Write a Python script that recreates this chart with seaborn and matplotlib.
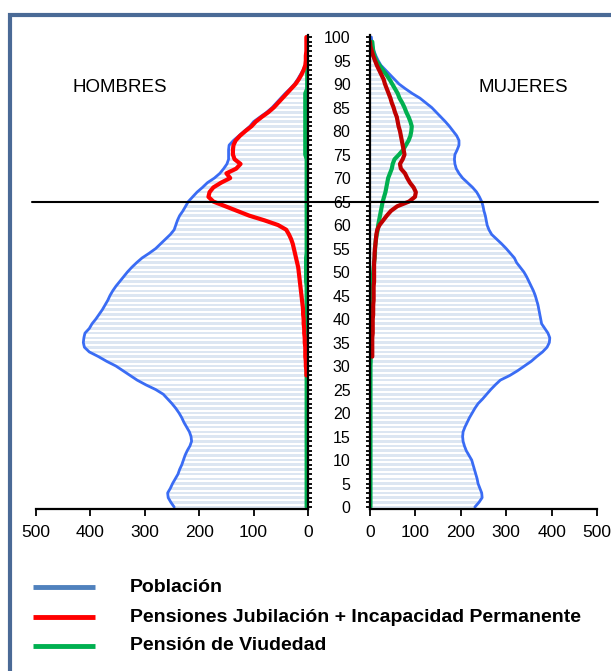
import numpy as np
import pandas as pd
import matplotlib.pyplot as plt
import seaborn as sns
import matplotlib.transforms as mtransforms
from matplotlib.lines import Line2D
from matplotlib.patches import Rectangle
from matplotlib.ticker import MultipleLocator

# edades 0..100
ages = list(range(0, 101))

# poblacion (miles) por edad
pob_hombres = [246, 252, 257, 258, 253, 249, 244, 239, 236, 232,
               229, 226, 222, 217, 214, 215, 218, 223, 228, 232,
               237, 243, 250, 258, 266, 280, 298, 314, 327, 340,
               353, 370, 385, 402, 411, 413, 412, 410, 402, 397,
               390, 384, 378, 373, 368, 364, 359, 353, 346, 339,
               332, 324, 315, 305, 292, 280, 271, 262, 253, 246,
               243, 240, 236, 230, 225, 220, 212, 204, 194, 185,
               172, 162, 155, 149, 146, 146, 146, 145, 137, 127,
               117, 107, 100, 88, 76, 66, 58, 50, 42, 33,
               25, 19, 14, 9, 5, 3, 2, 1.5, 1, 0.6, 0.4]

pob_mujeres = [231, 240, 247, 246, 242, 238, 236, 233, 230, 227,
               224, 218, 212, 208, 205, 204, 205, 209, 214, 219,
               225, 231, 238, 248, 257, 266, 276, 287, 308, 325,
               340, 355, 367, 380, 390, 395, 396, 392, 385, 378,
               376, 374, 372, 370, 367, 364, 360, 355, 350, 345,
               339, 331, 323, 318, 309, 300, 290, 279, 268, 262,
               258, 256, 254, 251, 249, 246, 241, 235, 226, 215,
               204, 196, 190, 187, 186, 187, 192, 196, 196, 191,
               183, 175, 166, 156, 146, 136, 123, 110, 93, 78,
               64, 54, 44, 34, 24, 18, 13, 9, 6, 4, 3]

# pensiones jubilacion + incapacidad permanente
nan = np.nan
jub_hombres = [nan] * 28 + [
    3, 3, 4, 4, 5, 5, 5, 6, 6, 7, 7, 8,
    8, 9, 9, 10, 11, 12, 13, 14, 15, 16,
    17, 18, 20, 22, 24, 26, 28, 31, 35, 40,
    55, 80, 108, 130, 152, 174, 183, 181, 174, 160,
    143, 150, 132, 124, 135, 138, 138, 137, 133, 125,
    115, 104, 96, 85, 73, 63, 55, 47, 39, 31,
    23, 17, 12, 8, 5, 4, 4, 3, 3, 3, 3]

jub_mujeres = [nan] * 32 + [
    5, 5, 5, 5, 5, 6, 6, 6,
    6, 7, 7, 7, 8, 8, 8, 8, 9, 9,
    9, 9, 9, 10, 10, 11, 12, 13, 14, 16,
    21, 29, 37, 46, 60, 86, 99, 101, 96, 88,
    82, 77, 68, 66, 72, 76, 74, 72, 70, 68,
    66, 63, 61, 59, 55, 52, 48, 45, 41, 37,
    33, 30, 25, 20, 15, 11, 7, 4, 1, 0, nan]

# pension de viudedad
viu_hombres = [2.5, 2.5, 2.5, 2.5, 2.5, 2.5, 2.5, 2.5, 2.5, 2.5,
               2.5, 2.5, 2.5, 2.5, 2.5, 2.5, 2.5, 2.5, 2.5, 2.5,
               2.5, 2.5, 2.5, 2.5, 2.5, 2.5, 2.5, 2.5, 2.5, 2.5,
               2.5, 2.5, 2.5, 2.5, 2.5, 2.5, 2.5, 2.5, 2.5, 2.5,
               2.5, 2.5, 2.5, 2.5, 2.5, 2.5, 2.5, 2.5, 3.5, 3.5,
               3.5, 3.5, 3.5, 3.5, 2.5, 2.5, 2.5, 2.5, 2.5, 2.5,
               2.5, 2.5, 2.5, 2.5, 2.5, 2.5, 2.5, 2.5, 2.5, 2.5,
               2.5, 2.5, 2.5, 2.5, 2.5, 5, 5, 5, 5, 5,
               5, 5, 5, 5, 5, 5, 5, 5, 5, 1.5,
               1.5, 1.5, 1.5, 1.5, 1.5, 1.5, 1.5, 1.5, 1.5, 1.5, 1.5]

viu_mujeres = [1, 1, 1, 1, 1, 1, 1, 1, 1, 1,
               1, 1, 1, 1, 1, 1, 1, 1, 1, 1,
               1, 1, 1, 1, 1, 1, 1, 1, 1, 1,
               1, 1.5, 1.5, 2, 2, 2, 2.5, 2.5, 3, 3,
               3.5, 3.5, 4, 4, 4.5, 5, 5.5, 5.5, 6, 6.5,
               7, 8, 9, 10, 11, 11, 12, 13, 15, 17,
               18, 20, 22, 24, 26, 28, 31, 34, 36, 38,
               40, 44, 48, 50, 54, 64, 73, 79, 85, 89,
               91, 92, 89, 85, 80, 76, 71, 65, 61, 55,
               49, 43, 36, 28, 21, 14, 10, 7, 6, 5, nan]

bar_color = "#dce6f2"
blue_line = "#3a6cf4"

sns.set_style("white")
plt.rcParams["font.family"] = ["Liberation Sans", "DejaVu Sans"]
plt.rcParams["text.color"] = "black"

W, H = 611, 671
fig = plt.figure(figsize=(W / 100, H / 100), dpi=100)
ax1 = fig.add_axes([36 / W, 1 - 509.4 / H, 272 / W, 474.7 / H])
ax2 = fig.add_axes([370 / W, 1 - 509.4 / H, 227 / W, 474.7 / H])

df_h = pd.DataFrame({"edad": ages, "pob": pob_hombres, "jub": jub_hombres, "viu": viu_hombres})
df_m = pd.DataFrame({"edad": ages, "pob": pob_mujeres, "jub": jub_mujeres, "viu": viu_mujeres})

for ax, df, red in [(ax1, df_h, "#ff0000"), (ax2, df_m, "#c00000")]:
    sns.barplot(data=df, x="pob", y="edad", orient="y", native_scale=True,
                color=bar_color, saturation=1, width=0.55, errorbar=None,
                linewidth=0, ax=ax)
    sns.lineplot(data=df, x="pob", y="edad", sort=False, estimator=None,
                 color=blue_line, lw=2.0, ax=ax)
    sns.lineplot(data=df.dropna(subset=["viu"]), x="viu", y="edad", sort=False,
                 estimator=None, color="#00b050", lw=3.0, ax=ax)
    sns.lineplot(data=df.dropna(subset=["jub"]), x="jub", y="edad", sort=False,
                 estimator=None, color=red, lw=3.0, ax=ax)
    ax.set_ylim(-0.5, 100.5)
    ax.set_xlabel("")
    ax.set_ylabel("")
    ax.set_xticks([0, 100, 200, 300, 400, 500])
    ax.yaxis.set_major_locator(MultipleLocator(5))
    ax.yaxis.set_minor_locator(MultipleLocator(1))
    ax.tick_params(axis="x", direction="out", length=5, width=1.3, pad=6,
                   labelsize=12.5, colors="black", bottom=True)
    ax.tick_params(axis="y", which="both", direction="out", length=3, width=1.3,
                   colors="black", labelsize=11.5)
    ax.spines["top"].set_visible(False)
    ax.spines["bottom"].set_color("black")
    ax.spines["bottom"].set_linewidth(1.6)

ax1.set_xlim(500, 0)
ax1.spines["left"].set_visible(False)
ax1.spines["right"].set_color("black")
ax1.spines["right"].set_linewidth(1.6)
ax1.yaxis.tick_right()
ax1.tick_params(axis="y", which="both", labelright=False, right=True, left=False)

ax2.set_xlim(0, 500)
ax2.spines["right"].set_visible(False)
ax2.spines["left"].set_color("black")
ax2.spines["left"].set_linewidth(1.6)
ax2.tick_params(axis="y", which="both", left=True, pad=11)

# linea de 65 años
trans = mtransforms.blended_transform_factory(fig.transFigure, ax1.transData)
fig.add_artist(Line2D([32 / W, 598 / W], [65, 65], transform=trans, color="black", lw=1.5))

fig.text(120 / W, 1 - 88 / H, "HOMBRES", ha="center", va="center", fontsize=13.5)
fig.text(523 / W, 1 - 88 / H, "MUJERES", ha="center", va="center", fontsize=13.5)

# marco
fig.add_artist(Rectangle((10 / W, -0.1), 1.2, 1.1 - 15 / H, transform=fig.transFigure,
                         fill=False, lw=3, ec="#4a6a96"))

# leyenda
leg_items = [("Población", "#4f81bd", 587), ("Pensiones Jubilación + Incapacidad Permanente", "#ff0000", 617),
             ("Pensión de Viudedad", "#00b050", 646)]
for label, c, y in leg_items:
    fig.add_artist(Line2D([33 / W, 95 / W], [1 - y / H, 1 - y / H], transform=fig.transFigure,
                          color=c, lw=3.5, solid_capstyle="butt"))
    fig.text(130 / W, 1 - y / H, label, ha="left", va="center", fontsize=14, fontweight="bold")

fig.savefig("out.png", dpi=100)
